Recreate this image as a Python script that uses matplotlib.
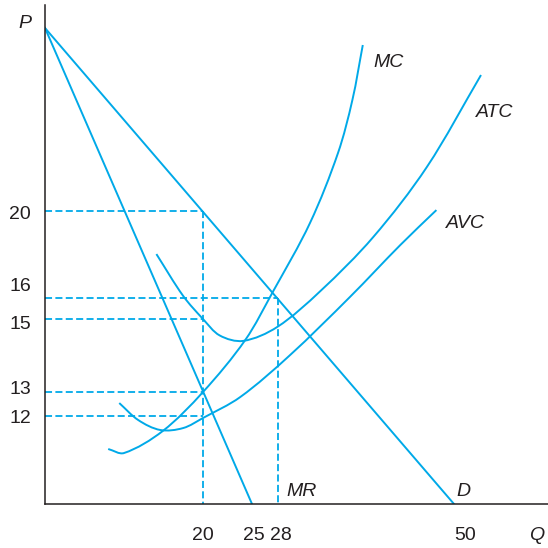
import numpy as np
import matplotlib
matplotlib.use('Agg')
import matplotlib.pyplot as plt
from matplotlib.path import Path
from matplotlib.patches import PathPatch

plt.rcParams['font.family'] = ['Liberation Sans', 'DejaVu Sans']

# Demand and marginal revenue (straight lines, end points)
d_q = [0, 50]
d_p = [30, 0]
mr_q = [0, 25]
mr_p = [30, 0]

# Cost curves (Q, P)
mc_q = [8.0, 10.0, 14.9, 20.0, 24.3, 27.4, 32.0, 35.5, 37.3, 38.6]
mc_p = [7.50, 6.95, 9.95, 13.00, 14.42, 16.28, 19.45, 23.17, 26.07, 29.07]

atc_q = [14.1, 17.5, 20.0, 21.7, 24.1, 27.9, 33.3, 39.9, 46.6, 53.3]
atc_p = [18.02, 16.09, 15.00, 14.55, 14.40, 14.78, 16.32, 18.80, 22.40, 27.43]

avc_q = [9.4, 11.8, 14.6, 17.5, 20.0, 23.8, 29.5, 37.0, 43.3, 47.8]
avc_p = [12.54, 11.45, 10.09, 10.36, 11.73, 12.79, 14.01, 16.05, 18.44, 20.05]

# Tick values and the dashed guide points
q_ticks = [20, 25, 28, 50]
p_ticks = [20, 16, 15, 13, 12]
guide_q = [20, 28, 20, 20, 20]
guide_p = [20, 16, 15, 13, 12]

blue = '#00A9E8'
ink = '#231F20'

# The textbook axes are not evenly spaced: piecewise linear scales
q_knots = [0, 20, 25, 28, 50, 70]
q_pos = [0, 158, 207, 233, 409, 572.6]
p_knots = [0, 12, 13, 15, 16, 20, 30, 35]
p_pos = [0, 88, 112, 185, 206, 293, 476, 567.5]

def q_fwd(v):
    return np.interp(v, q_knots, q_pos)

def q_inv(v):
    return np.interp(v, q_pos, q_knots)

def p_fwd(v):
    return np.interp(v, p_knots, p_pos)

def p_inv(v):
    return np.interp(v, p_pos, p_knots)

def smooth_path(qs, ps):
    # cubic bezier through the points, handles from chord-length tangents
    pts = np.column_stack([q_fwd(np.array(qs)), p_fwd(np.array(ps))])
    n = len(pts)
    t = np.concatenate([[0], np.cumsum(np.hypot(*np.diff(pts, axis=0).T))])
    m = np.zeros_like(pts)
    m[0] = (pts[1] - pts[0]) / (t[1] - t[0])
    m[-1] = (pts[-1] - pts[-2]) / (t[-1] - t[-2])
    for i in range(1, n - 1):
        m[i] = (pts[i + 1] - pts[i - 1]) / (t[i + 1] - t[i - 1])
    verts = [pts[0]]
    codes = [Path.MOVETO]
    for i in range(n - 1):
        dt = t[i + 1] - t[i]
        verts += [pts[i] + m[i] * dt / 3, pts[i + 1] - m[i + 1] * dt / 3, pts[i + 1]]
        codes += [Path.CURVE4] * 3
    verts = np.array(verts)
    return Path(np.column_stack([q_inv(verts[:, 0]), p_inv(verts[:, 1])]), codes)

fig = plt.figure(figsize=(5.48, 5.48), dpi=100)
ax = fig.add_axes([45 / 548, 44 / 548, 503 / 548, 499 / 548])
ax.set_xscale('function', functions=(q_fwd, q_inv))
ax.set_yscale('function', functions=(p_fwd, p_inv))
ax.set_xlim(0, q_inv(503))
ax.set_ylim(0, p_inv(499))

# dashed guides
dash = (0, (3.9, 1.85))
for q, p in zip(guide_q, guide_p):
    ax.plot([0, q], [p, p], color=blue, lw=1.3, linestyle=dash, clip_on=False)
for q in sorted(set(guide_q)):
    top = max(p for gq, p in zip(guide_q, guide_p) if gq == q)
    ax.plot([q, q], [top, 0], color=blue, lw=1.3, linestyle=dash, clip_on=False)

# demand and MR
ax.plot(d_q, d_p, color=blue, lw=1.4)
ax.plot(mr_q, mr_p, color=blue, lw=1.4)

# cost curves
for qs, ps in [(mc_q, mc_p), (atc_q, atc_p), (avc_q, avc_p)]:
    ax.add_patch(PathPatch(smooth_path(qs, ps), fill=False, edgecolor=blue,
                           lw=1.4, capstyle='butt'))

# axes
for side in ['top', 'right']:
    ax.spines[side].set_visible(False)
for side in ['left', 'bottom']:
    ax.spines[side].set_color(ink)
    ax.spines[side].set_linewidth(1.1)
ax.set_xticks([])
ax.set_yticks([])

fs = 14
# tick labels (nudged like the original)
q_nudge = [0, 1.5, 2.2, 8]
for q, dx in zip(q_ticks, q_nudge):
    ax.annotate(str(q), xy=(q, 0), xycoords=('data', 'axes fraction'),
                xytext=(dx, -21), textcoords='offset points',
                ha='center', va='center_baseline', fontsize=fs, color=ink)
p_nudge = [-1.4, 9.4, -2.2, 3.6, -0.7]
for p, dy in zip(p_ticks, p_nudge):
    ax.annotate(str(p), xy=(0, p), xycoords=('axes fraction', 'data'),
                xytext=(-18, dy), textcoords='offset points',
                ha='center', va='center_baseline', fontsize=fs, color=ink)

# curve and axis names
labels = [
    ('MC', (mc_q[-1], mc_p[-1]), (18.7, -11.5)),
    ('ATC', (atc_q[-1], atc_p[-1]), (10.1, -25.2)),
    ('AVC', (avc_q[-1], avc_p[-1]), (20.9, -7.9)),
    ('MR', (mr_q[-1], mr_p[-1]), (36, 10.1)),
    ('D', (d_q[-1], d_p[-1]), (6.5, 10.1)),
]
for text, xy, off in labels:
    ax.annotate(text, xy=xy, xytext=off, textcoords='offset points',
                ha='center', va='center_baseline', fontsize=fs,
                fontstyle='italic', color=ink)

ax.annotate('P', xy=(0, 1), xycoords='axes fraction', xytext=(-14.4, -12.2),
            textcoords='offset points', ha='center', va='center_baseline',
            fontsize=fs, fontstyle='italic', color=ink)
ax.annotate('Q', xy=(1, 0), xycoords='axes fraction', xytext=(-7.9, -20.9),
            textcoords='offset points', ha='center', va='center_baseline',
            fontsize=fs, fontstyle='italic', color=ink)

fig.savefig('out.png', dpi=100)
